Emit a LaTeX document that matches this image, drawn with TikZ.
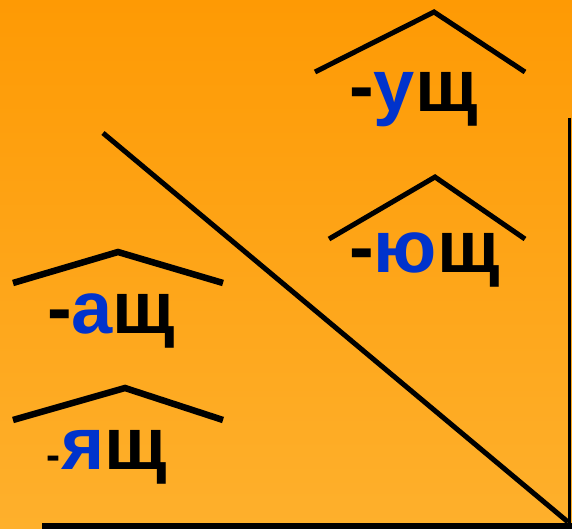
\documentclass[tikz,border=0pt]{standalone}
\usepackage{fontspec}
\setmainfont{Liberation Sans}
\usepackage{xcolor}
\usetikzlibrary{positioning, calc}

\definecolor{bgtop}{RGB}{254,154,4}
\definecolor{bgbottom}{RGB}{254,176,44}
\definecolor{sufblue}{RGB}{0,51,204}

\begin{document}
\begin{tikzpicture}[
    x=1pt, y=-1pt,
    suffix/.style={inner sep=0pt, anchor=base west, font=\fontsize{74}{74}\selectfont\bfseries},
    roof/.style={line width=5pt, line cap=butt, line join=miter},
    rule/.style={line width=5pt}
]

% Background
\useasboundingbox (0,0) rectangle (572,529);
\shade[top color=bgtop, bottom color=bgbottom] (0,0) rectangle (572,529);

% Suffixes
\node[suffix] (ush) at (349,112) {-{\color{sufblue}у}щ};
\node[suffix] (yush) at (349,272) {-{\color{sufblue}ю}щ};
\node[suffix] (ash) at (47,333) {-{\color{sufblue}а}щ};
\node[suffix] (yash) at (61,469) {\llap{\fontsize{42}{42}\selectfont\bfseries -\kern1pt}{\color{sufblue}я}щ};

% Roofs
\draw[roof] (315,72) -- (434,12) -- (525,72);
\draw[roof] (329,239) -- (435,177) -- (525,239);
\draw[roof, line width=6.5pt] (13,283) -- (118,252) -- (223,283);
\draw[roof, line width=6.5pt] (13,420) -- (125,388) -- (223,420);

% Rules
\draw[rule] (103,133) -- (568,522);
\draw[line width=3pt] (569,118) -- (569,529);
\draw[line width=6pt] (42,526) -- (572,526);

\end{tikzpicture}
\end{document}
